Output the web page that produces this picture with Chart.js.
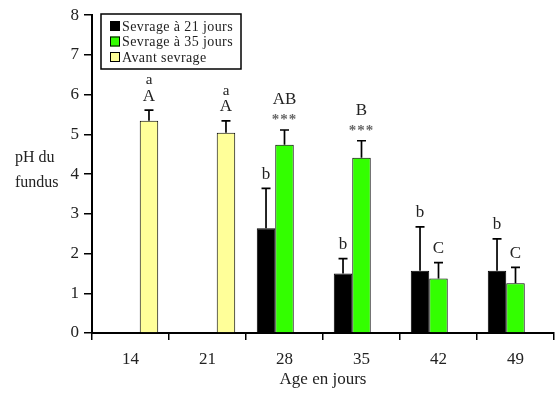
<!DOCTYPE html>
<html>
<head>
<meta charset="utf-8">
<script src="https://cdn.jsdelivr.net/npm/chart.js@4/dist/chart.umd.min.js"></script>
<style>
  html, body { margin: 0; padding: 0; background: #fff; }
  #chart { display: block; }
</style>
</head>
<body>
<canvas id="chart" width="555" height="394"></canvas>
<script>
// Données
const ages = ['14', '21', '28', '35', '42', '49'];
const sevrage21 = [null, null, 2.64, 1.50, 1.57, 1.57];
const sevrage21Err = [null, null, 1.0, 0.37, 1.1, 0.8];
const sevrage35 = [null, null, 4.74, 4.41, 1.37, 1.25];
const sevrage35Err = [null, null, 0.37, 0.43, 0.4, 0.4];
const avantSevrage = [5.34, 5.04, null, null, null, null];
const avantSevrageErr = [0.27, 0.3, null, null, null, null];
const yTicks = [0, 1, 2, 3, 4, 5, 6, 7, 8];

// Lettres de significativité (de bas en haut)
const lettres21 = [null, null, ['b'], ['b'], ['b'], ['b']];
const lettres35 = [null, null, ['***', 'AB'], ['***', 'B'], ['C'], ['C']];
const lettresAvant = [['A', 'a'], ['A', 'a'], null, null, null, null];

const serif = '"Liberation Serif", "DejaVu Serif", serif';

const errors = [sevrage21Err, sevrage35Err, avantSevrageErr];
const lettres = [lettres21, lettres35, lettresAvant];

const extras = {
    id: 'extras',
    afterDatasetsDraw(chart) {
        const ctx = chart.ctx;
        const y = chart.scales.y;
        ctx.save();
        chart.data.datasets.forEach((ds, i) => {
            const meta = chart.getDatasetMeta(i);
            ds.data.forEach((v, j) => {
                if (v === null) return;
                const bar = meta.data[j];
                const err = errors[i][j];
                const yTop = y.getPixelForValue(v + err);
                ctx.strokeStyle = '#000';
                ctx.lineWidth = 1.7;
                ctx.beginPath();
                ctx.moveTo(bar.x, bar.y);
                ctx.lineTo(bar.x, yTop);
                ctx.moveTo(bar.x - 4.5, yTop);
                ctx.lineTo(bar.x + 4.5, yTop);
                ctx.stroke();

                const lines = lettres[i][j];
                if (!lines) return;
                ctx.textAlign = 'center';
                ctx.textBaseline = 'middle';
                let off = 14;
                lines.forEach(t => {
                    if (t === '***') {
                        ctx.fillStyle = '#666';
                        ctx.font = 'bold 15px ' + serif;
                        ctx.letterSpacing = '1px';
                        ctx.fillText(t, bar.x, yTop - off + 4);
                        ctx.letterSpacing = '0px';
                    } else if (t === 'a') {
                        ctx.fillStyle = '#222';
                        ctx.font = '15px ' + serif;
                        ctx.fillText(t, bar.x, yTop - off);
                    } else {
                        ctx.fillStyle = '#222';
                        ctx.font = '17px ' + serif;
                        ctx.fillText(t, bar.x, yTop - off);
                    }
                    off += 16;
                });
            });
        });
        ctx.restore();
    },
    afterDraw(chart) {
        const ctx = chart.ctx;
        ctx.save();
        // titre de l'axe y
        ctx.fillStyle = '#222';
        ctx.font = '16px ' + serif;
        ctx.textAlign = 'left';
        ctx.textBaseline = 'middle';
        ctx.fillText('pH du', 15, 158);
        ctx.fillText('fundus', 15, 183);
        // titre de l'axe x
        ctx.font = '17px ' + serif;
        ctx.textAlign = 'center';
        ctx.fillText('Age en jours', (chart.chartArea.left + chart.chartArea.right) / 2, 380);

        // légende encadrée
        ctx.strokeStyle = '#000';
        ctx.lineWidth = 1.5;
        ctx.strokeRect(101, 14, 140, 55);
        ctx.font = '14px ' + serif;
        ctx.letterSpacing = '0.4px';
        ctx.textAlign = 'left';
        chart.data.datasets.forEach((ds, i) => {
            const cy = 26 + i * 15.5;
            ctx.fillStyle = ds.backgroundColor;
            ctx.fillRect(110, cy - 5, 10, 10);
            ctx.lineWidth = 1;
            ctx.strokeRect(110.5, cy - 4.5, 9, 9);
            ctx.fillStyle = '#222';
            ctx.fillText(ds.label, 122, cy + 1);
        });
        ctx.restore();
    }
};

new Chart(document.getElementById('chart'), {
    type: 'bar',
    data: {
        labels: ages,
        datasets: [
            { label: 'Sevrage à 21 jours', data: sevrage21, backgroundColor: '#000000' },
            { label: 'Sevrage à 35 jours', data: sevrage35, backgroundColor: '#33ff00' },
            { label: 'Avant sevrage', data: avantSevrage, backgroundColor: '#ffff99' }
        ]
    },
    options: {
        responsive: false,
        animation: false,
        layout: { padding: { top: 12, right: 1, left: 0, bottom: 0 } },
        datasets: {
            bar: {
                categoryPercentage: 0.72,
                barPercentage: 1,
                borderColor: '#000',
                borderWidth: 1
            }
        },
        plugins: {
            legend: { display: false },
            tooltip: { enabled: false }
        },
        scales: {
            x: {
                afterFit: s => { s.height = 61; },
                grid: { display: true, drawOnChartArea: false, tickLength: 7, color: '#000', lineWidth: 1.5, offset: true },
                border: { display: true, color: '#000', width: 2 },
                ticks: { color: '#222', font: { family: serif, size: 17 }, padding: 9 }
            },
            y: {
                min: 0,
                max: 8,
                afterFit: s => { s.width = 92; },
                afterBuildTicks: s => { s.ticks = yTicks.map(v => ({ value: v })); },
                grid: { display: true, drawOnChartArea: false, tickLength: 8, color: '#000', lineWidth: 1.5 },
                border: { display: true, color: '#000', width: 2 },
                ticks: { color: '#222', font: { family: serif, size: 17 }, padding: 5 }
            }
        }
    },
    plugins: [extras]
});
</script>
</body>
</html>
